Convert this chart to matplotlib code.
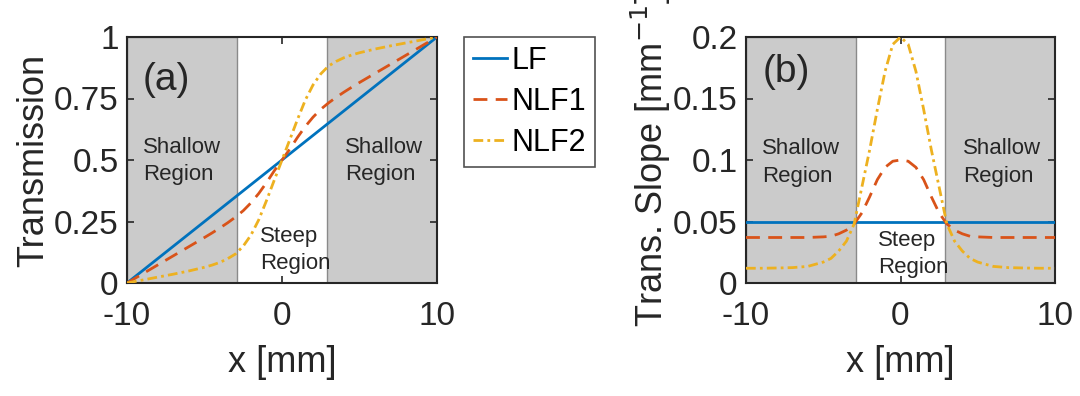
import matplotlib
matplotlib.use("Agg")
import matplotlib.pyplot as plt
from matplotlib.ticker import FixedLocator, FixedFormatter

plt.rcParams['font.family'] = ['Liberation Sans', 'DejaVu Sans']

# ---------------- data ----------------
x = [-10, -9, -8, -7, -6, -5, -4.5, -4, -3.5, -3, -2.5, -2, -1.5, -1, -0.5,
     0, 0.5, 1, 1.5, 2, 2.5, 3, 3.5, 4, 4.5, 5, 6, 7, 8, 9, 10]

# Transmission (panel a)
T_LF = [0.0, 0.05, 0.10, 0.15, 0.20, 0.25, 0.275, 0.30, 0.325, 0.35, 0.375, 0.40, 0.425, 0.45, 0.475,
        0.5, 0.525, 0.55, 0.575, 0.60, 0.625, 0.65, 0.675, 0.70, 0.725, 0.75, 0.80, 0.85, 0.90, 0.95, 1.0]
T_NLF1 = [0.0, 0.037, 0.074, 0.111, 0.148, 0.185, 0.204, 0.224, 0.245, 0.268, 0.294, 0.326, 0.364, 0.408, 0.456,
          0.5, 0.544, 0.592, 0.636, 0.674, 0.706, 0.732, 0.755, 0.776, 0.796, 0.815, 0.852, 0.889, 0.926, 0.963, 1.0]
T_NLF2 = [0.0, 0.012, 0.024, 0.036, 0.049, 0.064, 0.073, 0.084, 0.099, 0.118, 0.150, 0.195, 0.257, 0.335, 0.418,
          0.5, 0.582, 0.665, 0.743, 0.805, 0.850, 0.882, 0.901, 0.916, 0.927, 0.936, 0.951, 0.964, 0.976, 0.988, 1.0]

# Transmission slope (panel b)
S_LF = [0.05] * 31
S_NLF1 = [0.037, 0.037, 0.037, 0.037, 0.037, 0.0375, 0.038, 0.040, 0.043, 0.048, 0.057, 0.070, 0.084, 0.094, 0.099,
          0.100, 0.099, 0.094, 0.084, 0.070, 0.057, 0.048, 0.043, 0.040, 0.038, 0.0375, 0.037, 0.037, 0.037, 0.037, 0.037]
S_NLF2 = [0.012, 0.012, 0.0122, 0.0125, 0.0135, 0.017, 0.020, 0.026, 0.034, 0.048, 0.078, 0.108, 0.141, 0.172, 0.194,
          0.200, 0.194, 0.172, 0.141, 0.108, 0.078, 0.048, 0.034, 0.026, 0.020, 0.017, 0.0135, 0.0125, 0.0122, 0.012, 0.012]

series_names = ['LF', 'NLF1', 'NLF2']
xticks = [-10, 0, 10]
xticklabels = ['-10', '0', '10']
yticks_a = [0, 0.25, 0.5, 0.75, 1]
yticklabels_a = ['0', '0.25', '0.5', '0.75', '1']
yticks_b = [0, 0.05, 0.1, 0.15, 0.2]
yticklabels_b = ['0', '0.05', '0.1', '0.15', '0.2']
steep_half_width = 2.9

# ---------------- styling ----------------
colors = ['#0072BD', '#D95319', '#EDB120']
styles = ['-', (0, (5, 3)), (0, (3.5, 1.5, 1, 1.5))]
lw = 2.0
gray = '#CBCBCB'
tc = '#262626'

fig = plt.figure(figsize=(10.8, 3.96), dpi=100)
W, H = 1080, 396
ax_a = fig.add_axes([127 / W, 1 - 283 / H, 310 / W, 246 / H])
ax_b = fig.add_axes([746 / W, 1 - 283 / H, 309 / W, 246 / H])


def style_axes(ax, yt, ytl, ylim):
    ax.set_xlim(-10, 10)
    ax.set_ylim(*ylim)
    ax.axvspan(-10, -steep_half_width, facecolor=gray, edgecolor='#8a8a8a', lw=1.0, zorder=0)
    ax.axvspan(steep_half_width, 10, facecolor=gray, edgecolor='#8a8a8a', lw=1.0, zorder=0)
    ax.xaxis.set_major_locator(FixedLocator(xticks))
    ax.xaxis.set_major_formatter(FixedFormatter(xticklabels))
    ax.yaxis.set_major_locator(FixedLocator(yt))
    ax.yaxis.set_major_formatter(FixedFormatter(ytl))
    ax.tick_params(direction='in', length=5, width=1.2, top=True, right=True,
                   labelsize=24, colors=tc)
    ax.tick_params(axis='x', pad=13)
    ax.tick_params(axis='y', pad=6)
    for sp in ax.spines.values():
        sp.set_linewidth(1.5)
        sp.set_color(tc)
    ax.set_xlabel('x [mm]', fontsize=26, color=tc, labelpad=9)


style_axes(ax_a, yticks_a, yticklabels_a, (0, 1))
style_axes(ax_b, yticks_b, yticklabels_b, (0, 0.2))

lines = []
for y, c, s, n in zip([T_LF, T_NLF1, T_NLF2], colors, styles, series_names):
    ln, = ax_a.plot(x, y, color=c, linestyle=s, lw=lw, label=n, zorder=3)
    lines.append(ln)
for y, c, s in zip([S_LF, S_NLF1, S_NLF2], colors, styles):
    ax_b.plot(x, y, color=c, linestyle=s, lw=lw, zorder=3)

ax_a.set_ylabel('Transmission', fontsize=26, color=tc, labelpad=2)
ax_b.set_ylabel('Trans. Slope [mm$^{-1}$]', fontsize=26, color=tc, labelpad=0)

ax_a.text(-8.97, 0.825, '(a)', fontsize=28, va='center', ha='left', color=tc)
ax_a.text(-8.97, 0.496, 'Shallow\nRegion', fontsize=16, va='center', ha='left', color=tc, linespacing=1.4)
ax_a.text(4.06, 0.496, 'Shallow\nRegion', fontsize=16, va='center', ha='left', color=tc, linespacing=1.4)
ax_a.text(-1.42, 0.134, 'Steep\nRegion', fontsize=16, va='center', ha='left', color=tc, linespacing=1.4)

ax_b.text(-8.9, 0.1715, '(b)', fontsize=28, va='center', ha='left', color=tc)
ax_b.text(-8.96, 0.098, 'Shallow\nRegion', fontsize=16, va='center', ha='left', color=tc, linespacing=1.4)
ax_b.text(4.05, 0.098, 'Shallow\nRegion', fontsize=16, va='center', ha='left', color=tc, linespacing=1.4)
ax_b.text(-1.46, 0.0236, 'Steep\nRegion', fontsize=16, va='center', ha='left', color=tc, linespacing=1.4)

leg = fig.legend(handles=lines, loc='upper left', bbox_to_anchor=(464 / W, 1 - 37 / H),
                 fontsize=22, frameon=True, fancybox=False, edgecolor=tc,
                 handlelength=1.1, handletextpad=0.15, labelspacing=0.35,
                 borderpad=0.3, borderaxespad=0.0)
leg.get_frame().set_linewidth(1.2)

fig.savefig('out.png', dpi=100)
